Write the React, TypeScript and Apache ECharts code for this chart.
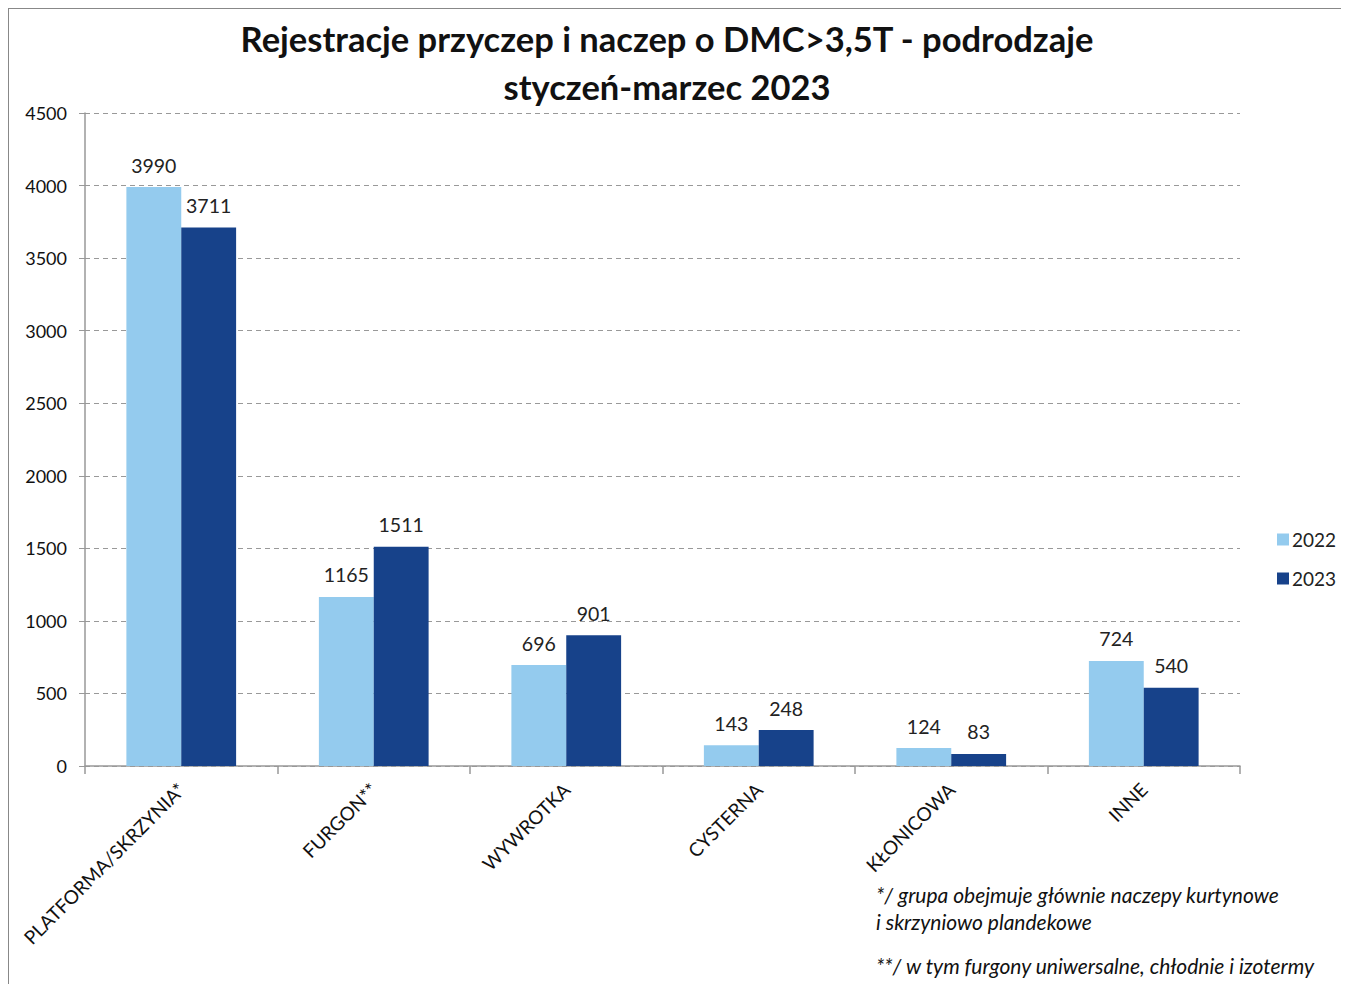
import React, { useEffect, useRef } from "react";
import * as echarts from "echarts";

const categories = ["PLATFORMA/SKRZYNIA*", "FURGON**", "WYWROTKA", "CYSTERNA", "KŁONICOWA", "INNE"];
const values2022 = [3990, 1165, 696, 143, 124, 724];
const values2023 = [3711, 1511, 901, 248, 83, 540];
const seriesNames = ["2022", "2023"];
const titleText = "Rejestracje przyczep i naczep o DMC>3,5T - podrodzaje\nstyczeń-marzec 2023";
const footnote1 = "*/ grupa obejmuje głównie naczepy kurtynowe\ni skrzyniowo plandekowe";
const footnote2 = "**/ w tym furgony uniwersalne, chłodnie i izotermy";

const FONT = "Lato, 'Open Sans', sans-serif";

export default function App() {
  const ref = useRef<HTMLDivElement>(null);
  useEffect(() => {
    const chart = echarts.init(ref.current!, null, { renderer: "svg" });
    const labelStyle = { show: true, position: "top", fontSize: 19.5, color: "#222", fontFamily: FONT, distance: 12 };
    chart.setOption({
      animation: false,
      backgroundColor: "#fff",
      title: {
        text: titleText,
        left: 653,
        textAlign: "center",
        top: 0,
        textStyle: { fontSize: 34.5, fontWeight: "bold", color: "#111", fontFamily: FONT, lineHeight: 48 },
      },
      legend: {
        orient: "vertical",
        left: 1263,
        top: 516,
        itemWidth: 12,
        itemHeight: 12,
        itemGap: 20,
        icon: "rect",
        textStyle: { fontSize: 19, color: "#222", fontFamily: FONT, padding: [0, 0, 0, -2] },
        data: seriesNames,
      },
      grid: { left: 76, top: 104, width: 1155, height: 653, containLabel: false },
      xAxis: {
        type: "category",
        data: categories,
        axisLine: { lineStyle: { color: "#999", width: 1.5 } },
        axisTick: { show: true, length: 8, lineStyle: { color: "#999", width: 1.5 } },
        axisLabel: { rotate: 45, fontSize: 19, color: "#111", fontFamily: FONT, margin: 20, interval: 0 },
      },
      yAxis: {
        type: "value",
        min: 0,
        max: 4500,
        interval: 500,
        axisLine: { show: true, lineStyle: { color: "#999", width: 1.5 } },
        axisTick: { show: true, length: 6, lineStyle: { color: "#999" } },
        axisLabel: { fontSize: 18, color: "#111", fontFamily: FONT, margin: 18, formatter: (v: number) => String(v) },
        splitLine: { lineStyle: { type: [5, 4], color: "#999", width: 1 } },
      },
      series: [
        {
          name: seriesNames[0],
          type: "bar",
          data: values2022,
          barGap: "0%",
          barCategoryGap: "43%",
          itemStyle: { color: "#94CBEE" },
          label: labelStyle,
        },
        {
          name: seriesNames[1],
          type: "bar",
          data: values2023,
          barGap: "0%",
          barCategoryGap: "43%",
          itemStyle: { color: "#17428A" },
          label: labelStyle,
        },
      ],
      graphic: [
        {
          type: "text",
          left: 867,
          top: 872,
          style: { text: footnote1, fontSize: 21, fontStyle: "italic", fill: "#111", fontFamily: FONT, lineHeight: 27 },
        },
        {
          type: "text",
          left: 867,
          top: 946,
          style: { text: footnote2, fontSize: 21, fontStyle: "italic", fill: "#111", fontFamily: FONT },
        },
      ],
    });
    return () => chart.dispose();
  }, []);
  return (
    <div style={{ width: 1341, height: 976, borderLeft: "1px solid #888", borderTop: "1px solid #888", boxSizing: "border-box", position: "relative" }}>
      <div ref={ref} style={{ width: 1340, height: 975 }} />
    </div>
  );
}
